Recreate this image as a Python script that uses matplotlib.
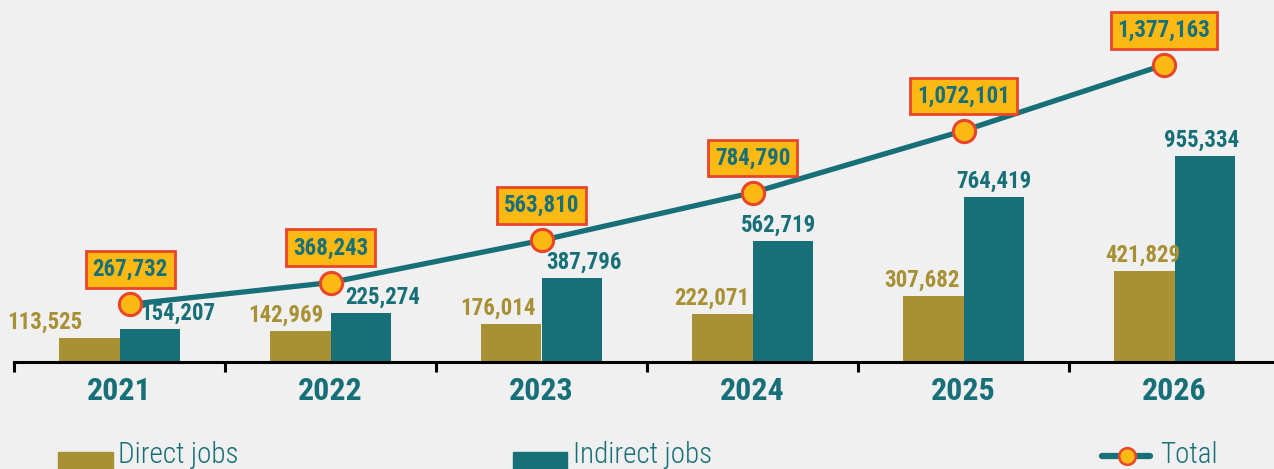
import matplotlib
matplotlib.use("Agg")
import matplotlib.pyplot as plt
from matplotlib import font_manager
from matplotlib.patches import Rectangle
from matplotlib.lines import Line2D
import numpy as np

years = ["2021", "2022", "2023", "2024", "2025", "2026"]
direct_jobs = [113525, 142969, 176014, 222071, 307682, 421829]
indirect_jobs = [154207, 225274, 387796, 562719, 764419, 955334]
total_jobs = [267732, 368243, 563810, 784790, 1072101, 1377163]

# layout offsets (pixels / category units)
direct_dx = [-45, -15, -14, -11, -11, -2]
indirect_dx = [28, 22, 12, -4, 0, -3]
line_dx = [0.05, 0, 0, 0, 0, -0.05]

GOLD = "#A89035"
TEAL = "#177078"
ORANGE = "#FDB913"
RED = "#E8452A"
BG = "#F0F0F0"

entries = font_manager.fontManager.ttflist
names = {f.name for f in entries}
COND = None
STRETCH = "normal"
for cand in ["Roboto Condensed", "Open Sans Condensed", "Liberation Sans Narrow",
             "Noto Sans Condensed", "Noto Sans Display Condensed"]:
    if cand in names:
        COND = cand
        break
if COND is None:
    for f in entries:
        if f.name == "DejaVu Sans" and str(f.stretch) in ("condensed", "semi-condensed"):
            COND = "DejaVu Sans"
            STRETCH = "condensed"
            break
if COND is None:
    for f in entries:
        if "Narrow" in f.name or "Condensed" in f.name:
            COND = f.name
            break
if COND is None:
    COND = "Roboto"

W, H = 1274, 469
fig = plt.figure(figsize=(W / 100, H / 100), dpi=100, facecolor=BG)
ax_left = 14 / W
ax_w = 1266 / W
ax_bottom = (H - 362) / H
ax = fig.add_axes([ax_left, ax_bottom, ax_w, 1 - ax_bottom])
ax.set_facecolor(BG)

tk = dict(family=COND, fontstretch=STRETCH)

x = np.arange(len(years))
bw = 0.285
ax.bar(x - bw / 2, direct_jobs, width=bw, color=GOLD, zorder=2)
ax.bar(x + bw / 2, indirect_jobs, width=bw, color=TEAL, zorder=2)
xl = x + np.array(line_dx)
ax.plot(xl, total_jobs, color=TEAL, lw=3.8, zorder=3, solid_capstyle="round")
ax.plot(xl, total_jobs, "o", ms=16, mfc=ORANGE, mec=RED, mew=2.2, zorder=4, ls="none")

ax.set_xlim(-0.5, 5.5)
ax.set_ylim(0, 1678000)

for i in range(len(years)):
    ax.annotate(f"{direct_jobs[i]:,}", (x[i] - bw / 2, direct_jobs[i]),
                xytext=(direct_dx[i] * 0.72, 3), textcoords="offset points",
                ha="center", va="bottom", fontsize=16.5, color=GOLD,
                weight="bold", zorder=5, **tk)
    ax.annotate(f"{indirect_jobs[i]:,}", (x[i] + bw / 2, indirect_jobs[i]),
                xytext=(indirect_dx[i] * 0.72, 3), textcoords="offset points",
                ha="center", va="bottom", fontsize=16.5, color=TEAL,
                weight="bold", zorder=5, **tk)
    ax.annotate(f"{total_jobs[i]:,}", (xl[i], total_jobs[i]),
                xytext=(0, 25), textcoords="offset points",
                ha="center", va="center", fontsize=16.5, color=TEAL,
                weight="bold", zorder=6,
                bbox=dict(boxstyle="square,pad=0.3", fc=ORANGE, ec=RED, lw=2), **tk)

for s in ["top", "right", "left"]:
    ax.spines[s].set_visible(False)
ax.spines["bottom"].set_linewidth(2.2)
ax.spines["bottom"].set_color("black")
ax.set_yticks([])
ax.set_xticks(x)
ax.set_xticklabels(years, fontsize=23, color=TEAL, weight="bold", **tk)
ax.tick_params(axis="x", which="major", length=0, pad=10)
ax.set_xticks(np.arange(-0.5, 5.5, 1.0), minor=True)
ax.tick_params(axis="x", which="minor", length=7, width=2.2, direction="out", color="black")

# legend (manual)
def fx(px):
    return px / W

def fy(py):
    return (H - py) / H

fig.patches.append(Rectangle((fx(58), fy(469)), fx(113) - fx(58), fy(452) - fy(469),
                             transform=fig.transFigure, color=GOLD, figure=fig))
fig.text(fx(118), fy(463), "Direct jobs", fontsize=21, color=TEAL,
         weight="light", va="baseline", ha="left", **tk)
fig.patches.append(Rectangle((fx(513), fy(469)), fx(567) - fx(513), fy(452) - fy(469),
                             transform=fig.transFigure, color=TEAL, figure=fig))
fig.text(fx(573), fy(463), "Indirect jobs", fontsize=21, color=TEAL,
         weight="light", va="baseline", ha="left", **tk)
fig.lines.append(Line2D([fx(1102), fx(1150)], [fy(456), fy(456)], transform=fig.transFigure,
                        color=TEAL, lw=4.5, solid_capstyle="round", figure=fig))
fig.lines.append(Line2D([fx(1127)], [fy(456)], transform=fig.transFigure, marker="o",
                        ms=12, mfc=ORANGE, mec=RED, mew=1.8, ls="none", figure=fig))
fig.text(fx(1160), fy(463), "Total", fontsize=21, color=TEAL,
         weight="light", va="baseline", ha="left", **tk)

fig.savefig("out.png", dpi=100, facecolor=BG)
